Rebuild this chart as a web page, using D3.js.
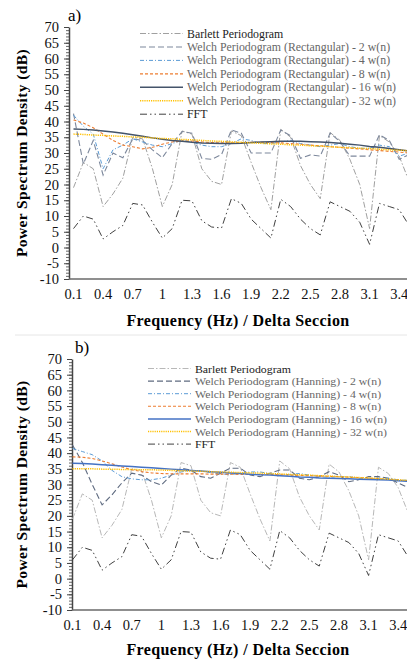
<!DOCTYPE html>
<html>
<head>
<meta charset="utf-8">
<script src="https://cdn.jsdelivr.net/npm/d3@7"></script>
<style>
  html, body { margin: 0; padding: 0; background: #fff; }
  svg { display: block; font-family: "Liberation Serif", "Times New Roman", serif; }
</style>
</head>
<body>
<script>
// categories (Hz)
var freqs = ["0.1","0.2","0.3","0.4","0.5","0.6","0.7","0.8","0.9","1","1.1","1.2","1.3","1.4","1.5","1.6","1.7","1.8",
             "1.9","2","2.1","2.2","2.3","2.4","2.5","2.6","2.7","2.8","2.9","3","3.1","3.2","3.3","3.4","3.5"];
var xTickLabels = ["0.1","0.4","0.7","1","1.3","1.6","1.9","2.2","2.5","2.8","3.1","3.4"];
var yTicks = [-10,-5,0,5,10,15,20,25,30,35,40,45,50,55,60,65,70];

// shared by both panels
var barlett = [19,27,25,13,17,22,35,34.5,25,13,20,37,36,25,21,20,37,35.5,27,19,12,37.5,35,26,20,15.5,36.5,34,28,20,6,35.5,33.5,29,21];
var fft = [6,10,9,2.7,5,7,14,13.5,8,3,6,15,14.8,8.5,6.5,6.2,15.5,14,9,6,3,15.3,13,9,6,4,14.5,13,11.5,8,1,14,13,12,7];

// a) rectangular window
var rect2  = [42.5,26.5,34,23,30,28.5,34.5,34,31,28.5,33,36.8,36.3,28.3,28,29.5,37.3,36.3,30,30,30,37.3,35.5,28.3,29.4,29,36.3,33.6,29,29,29,35.8,34,28,29.5];
var rect4  = [42,38.5,36,25,31,32.5,34.5,33.5,32.5,32,33,34,33.5,32.5,32,32,33,34.5,34,33,33,33.5,34,33,32.5,32,32.5,33,32,31.5,31.5,32.5,32,29,30];
var rect8  = [40.5,39.5,38,36,34,32.5,32,31.3,31.8,32.8,33.5,33.8,33.8,33.5,33.3,33.2,33.2,33.3,33.4,33.4,33.3,33.2,33,32.8,32.5,32.3,32,31.8,31.5,31.3,31,30.8,30.5,30.3,30];
var rect16 = [37.6,37.5,37.3,37,36.7,36.3,35.8,35.3,34.8,34.4,34,33.7,33.4,33.2,33.1,33,33,33.1,33.3,33.5,33.6,33.7,33.7,33.7,33.6,33.5,33.3,33.1,32.8,32.5,32.1,31.8,31.4,31,30.6];
var rect32 = [36,35.9,35.7,35.6,35.4,35.3,35.1,35,34.8,34.6,34.5,34.3,34.2,34,33.8,33.7,33.5,33.4,33.2,33.1,32.9,32.8,32.6,32.5,32.3,32.2,32,31.8,31.7,31.5,31.4,31.2,31,30.9,30.7];

// b) hanning window
var hann2  = [42.6,37,30,23.5,26.7,30.5,33.6,33,30.9,29.8,33,35.2,34.6,32.5,32,33.6,35.2,35.2,33,32.5,33.6,34.6,34.6,32,31.5,32.5,34.1,33,30.9,31.5,32.5,32.5,32,30.5,29];
var hann4  = [41.5,40.5,39.5,37.5,34.5,32.5,31.8,31.5,31.5,32,33,34,34.5,34.3,33.8,33.3,33.2,33.5,34,34,33.5,33,33.2,33.5,33,32.5,32.3,32.5,32.5,32,31.8,32,32,31.5,31.3];
var hann8  = [38.8,38.7,38.3,37.5,36.6,35.6,34.7,34.1,33.7,33.5,33.4,33.4,33.4,33.4,33.3,33.3,33.3,33.2,33.2,33.2,33.2,33.1,33,32.9,32.8,32.7,32.6,32.5,32.3,32.2,32,31.8,31.6,31.4,31.2];
var hann16 = [36.8,36.7,36.5,36.3,36.1,35.9,35.7,35.5,35.3,35.1,34.9,34.7,34.5,34.3,34.1,33.9,33.7,33.5,33.3,33.1,33,32.8,32.6,32.4,32.3,32.1,32,31.9,31.8,31.7,31.6,31.5,31.4,31.2,31];
var hann32 = [35,35,35,34.9,34.9,34.8,34.8,34.7,34.7,34.6,34.5,34.4,34.3,34.2,34.1,34,33.9,33.8,33.7,33.6,33.5,33.4,33.2,33.1,33,32.8,32.7,32.5,32.4,32.2,32.1,31.9,31.7,31.5,31.3];

var svg = d3.select("body").append("svg")
    .attr("width", 407)
    .attr("height", 659);

// faint chart border above panel b
svg.append("line")
    .attr("x1", 15).attr("x2", 407).attr("y1", 335).attr("y2", 335)
    .attr("stroke", "#e6e6e6");

function drawPanel(p) {
  var g = svg.append("g");

  var x = d3.scalePoint()
      .domain(freqs)
      .range([p.first, p.first + (freqs.length - 1) * 9.87]);
  var y = d3.scaleLinear()
      .domain([-10, 70])
      .range([p.bottom, p.top]);

  // panel letter
  g.append("text")
      .attr("x", p.letterX).attr("y", p.top - 6)
      .style("font-size", "17px")
      .text(p.letter);

  // y axis with minor ticks
  g.append("g")
      .attr("transform", "translate(" + p.left + ",0)")
      .call(d3.axisLeft(y).tickValues(d3.range(-10, 71, 1)).tickSize(3).tickFormat(""))
      .call(function(a) { a.select(".domain").remove(); a.selectAll("line").attr("stroke", "#666"); });

  var yAxis = g.append("g")
      .attr("transform", "translate(" + p.left + ",0)")
      .call(d3.axisLeft(y).tickValues(yTicks).tickSize(5).tickPadding(5).tickSizeOuter(0)
            .tickFormat(function(d) { return String(d); }));
  yAxis.select(".domain").attr("stroke", "#444").attr("stroke-width", 1.5);
  yAxis.selectAll(".tick line").attr("stroke", "#444");
  yAxis.selectAll(".tick text")
      .style("font-family", "Liberation Serif")
      .style("font-size", "14.5px")
      .attr("fill", "#111");

  // x axis at -10
  g.append("line")
      .attr("x1", p.left).attr("x2", 420)
      .attr("y1", y(-10)).attr("y2", y(-10))
      .attr("stroke", "#6a6a6a").attr("stroke-width", 1.5);

  g.selectAll(".xlab")
    .data(xTickLabels)
    .enter().append("text")
      .attr("x", function(d) { return x(d); })
      .attr("y", y(-10) + 20)
      .attr("text-anchor", "middle")
      .style("font-size", "14.5px")
      .attr("fill", "#111")
      .text(function(d) { return d; });

  // axis titles
  g.append("text")
      .attr("transform", "translate(" + p.yTitleX + "," + ((p.top + p.bottom) / 2) + ") rotate(-90)")
      .attr("text-anchor", "middle")
      .style("font-size", "15.5px")
      .style("font-weight", "bold")
      .style("letter-spacing", "0.4px")
      .text("Power Spectrum Density (dB)");

  g.append("text")
      .attr("x", 238).attr("y", p.xTitleY)
      .attr("text-anchor", "middle")
      .style("font-size", "16px")
      .style("font-weight", "bold")
      .style("letter-spacing", "0.4px")
      .text("Frequency (Hz) / Delta Seccion");

  var line = d3.line()
      .x(function(d, i) { return x(freqs[i]); })
      .y(function(d) { return y(d); });

  p.series.forEach(function(s) {
    g.append("path")
        .datum(s.values)
        .attr("fill", "none")
        .attr("stroke", s.color)
        .attr("stroke-width", s.width)
        .attr("stroke-dasharray", s.dash)
        .attr("d", line);
  });

  // legend
  var leg = g.append("g").attr("transform", "translate(" + p.legX + "," + p.legY + ")");
  var labels = [];
  p.series.forEach(function(s, i) {
    var row = leg.append("g").attr("transform", "translate(0," + (i * p.legStep) + ")");
    row.append("line")
        .attr("x1", 0).attr("x2", p.legLine)
        .attr("y1", 0).attr("y2", 0)
        .attr("stroke", s.color)
        .attr("stroke-width", s.width)
        .attr("stroke-dasharray", s.dash);
    labels.push(row.append("text")
        .attr("x", p.legLine + 4).attr("y", 4)
        .style("font-size", p.legFont)
        .attr("fill", s.textColor)
        .text(s.name));
  });
  // the reference legend font is narrow: fit to the measured width
  var widest = d3.max(labels, function(t) { return t.node().getComputedTextLength(); });
  var k = p.legWidth / widest;
  labels.forEach(function(t) {
    t.attr("textLength", t.node().getComputedTextLength() * k)
     .attr("lengthAdjust", "spacingAndGlyphs");
  });
}

drawPanel({
  letter: "a)", letterX: 68,
  left: 69, first: 73.5, top: 27, bottom: 279,
  yTitleX: 27, xTitleY: 326,
  legX: 140, legY: 33.5, legStep: 13.45, legLine: 43, legFont: "11.5px", legWidth: 209,
  series: [
    {name: "Barlett Periodogram", values: barlett, color: "#a0a0a0", width: 1, dash: "6,2,1.5,2", textColor: "#222"},
    {name: "Welch Periodogram (Rectangular) - 2 w(n)", values: rect2, color: "#7d889c", width: 1.1, dash: "6,3", textColor: "#666"},
    {name: "Welch Periodogram (Rectangular) - 4 w(n)", values: rect4, color: "#5b9bd5", width: 1, dash: "4,2,1,2", textColor: "#666"},
    {name: "Welch Periodogram (Rectangular) - 8 w(n)", values: rect8, color: "#ed7d31", width: 1.1, dash: "3,2", textColor: "#666"},
    {name: "Welch Periodogram (Rectangular) - 16 w(n)", values: rect16, color: "#44546a", width: 1.5, dash: null, textColor: "#666"},
    {name: "Welch Periodogram (Rectangular) - 32 w(n)", values: rect32, color: "#ffc000", width: 1.5, dash: "1.2,1", textColor: "#666"},
    {name: "FFT", values: fft, color: "#404040", width: 1, dash: "7,3,1.5,3,1.5,3", textColor: "#222"}
  ]
});

drawPanel({
  letter: "b)", letterX: 75,
  left: 72, first: 72.5, top: 359, bottom: 610,
  yTitleX: 27, xTitleY: 655,
  legX: 148, legY: 368.5, legStep: 12.6, legLine: 43, legFont: "11px", legWidth: 192,
  series: [
    {name: "Barlett Periodogram", values: barlett, color: "#b8b8b8", width: 1, dash: "6,2,1.5,2", textColor: "#222"},
    {name: "Welch Periodogram (Hanning) - 2 w(n)", values: hann2, color: "#5f6b80", width: 1.1, dash: "6,3", textColor: "#666"},
    {name: "Welch Periodogram (Hanning) - 4 w(n)", values: hann4, color: "#5b9bd5", width: 1, dash: "4,2,1,2", textColor: "#666"},
    {name: "Welch Periodogram (Hanning) - 8 w(n)", values: hann8, color: "#ed7d31", width: 1.1, dash: "3,2", textColor: "#666"},
    {name: "Welch Periodogram (Hanning) - 16 w(n)", values: hann16, color: "#4472c4", width: 1.5, dash: null, textColor: "#666"},
    {name: "Welch Periodogram (Hanning) - 32 w(n)", values: hann32, color: "#ffc000", width: 1.5, dash: "1.2,1", textColor: "#666"},
    {name: "FFT", values: fft, color: "#404040", width: 1, dash: "7,3,1.5,3,1.5,3", textColor: "#222"}
  ]
});
</script>
</body>
</html>
